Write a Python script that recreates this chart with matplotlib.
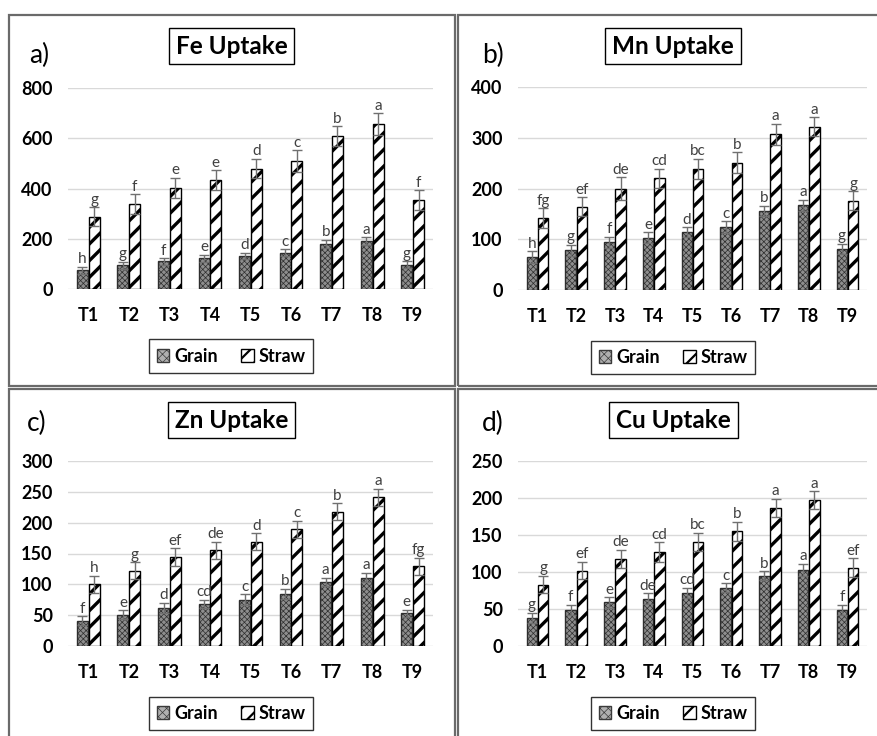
import matplotlib
matplotlib.use('Agg')
import matplotlib.pyplot as plt
from matplotlib.patches import Rectangle, Patch
import numpy as np

plt.rcParams['font.family'] = ['Lato', 'DejaVu Sans']
plt.rcParams['hatch.linewidth'] = 2.4

W, H = 877, 736

treatments = ['T1', 'T2', 'T3', 'T4', 'T5', 'T6', 'T7', 'T8', 'T9']

# Fe uptake
fe_grain = [74, 94, 110, 123, 132, 145, 180, 190, 97]
fe_grain_err = [15, 14, 13, 14, 13, 14, 16, 15, 13]
fe_straw = [287, 337, 403, 434, 479, 510, 608, 657, 354]
fe_straw_err = [38, 40, 40, 38, 39, 43, 40, 43, 39]
fe_grain_let = ['h', 'g', 'f', 'e', 'd', 'c', 'b', 'a', 'g']
fe_straw_let = ['g', 'f', 'e', 'e', 'd', 'c', 'b', 'a', 'f']

# Mn uptake
mn_grain = [65, 78, 94, 103, 114, 124, 156, 167, 81]
mn_grain_err = [11, 11, 11, 11, 10, 12, 10, 11, 10]
mn_straw = [142, 164, 200, 220, 239, 251, 307, 322, 176]
mn_straw_err = [19, 19, 22, 19, 20, 21, 21, 19, 19]
mn_grain_let = ['h', 'g', 'f', 'e', 'd', 'c', 'b', 'a', 'g']
mn_straw_let = ['fg', 'ef', 'de', 'cd', 'bc', 'b', 'a', 'a', 'g']

# Zn uptake
zn_grain = [41, 51, 62, 68, 75, 85, 104, 111, 53]
zn_grain_err = [7, 7, 8, 7, 9, 8, 7, 8, 6]
zn_straw = [100, 122, 144, 155, 169, 189, 218, 241, 129]
zn_straw_err = [14, 14, 15, 14, 14, 14, 14, 14, 14]
zn_grain_let = ['f', 'e', 'd', 'cd', 'c', 'b', 'a', 'a', 'e']
zn_straw_let = ['h', 'g', 'ef', 'de', 'd', 'c', 'b', 'a', 'fg']

# Cu uptake
cu_grain = [38, 49, 59, 64, 72, 79, 95, 103, 49]
cu_grain_err = [7, 7, 7, 7, 7, 6, 6, 8, 7]
cu_straw = [83, 102, 118, 127, 141, 155, 187, 197, 106]
cu_straw_err = [12, 12, 12, 13, 12, 13, 12, 12, 13]
cu_grain_let = ['g', 'f', 'e', 'de', 'cd', 'c', 'b', 'a', 'f']
cu_straw_let = ['g', 'ef', 'de', 'cd', 'bc', 'b', 'a', 'a', 'ef']

panels = [
    dict(tag='a)', title='Fe Uptake', grain=fe_grain, gerr=fe_grain_err, straw=fe_straw,
         serr=fe_straw_err, glet=fe_grain_let, slet=fe_straw_let, ymax=800, step=200,
         ax=(68, 433, 289, 88), border=(9, 15, 455, 386), tagpos=(39, 55),
         titlepos=(231.5, 46), legpos=(231, 356)),
    dict(tag='b)', title='Mn Uptake', grain=mn_grain, gerr=mn_grain_err, straw=mn_straw,
         serr=mn_straw_err, glet=mn_grain_let, slet=mn_straw_let, ymax=400, step=100,
         ax=(518, 867, 290, 87), border=(458, 15, 900, 386), tagpos=(493, 55),
         titlepos=(673, 46), legpos=(673, 357.5)),
    dict(tag='c)', title='Zn Uptake', grain=zn_grain, gerr=zn_grain_err, straw=zn_straw,
         serr=zn_straw_err, glet=zn_grain_let, slet=zn_straw_let, ymax=300, step=50,
         ax=(68, 433, 646, 461), border=(9, 389, 455, 760), tagpos=(37, 423),
         titlepos=(231.5, 420), legpos=(231, 713.5)),
    dict(tag='d)', title='Cu Uptake', grain=cu_grain, gerr=cu_grain_err, straw=cu_straw,
         serr=cu_straw_err, glet=cu_grain_let, slet=cu_straw_let, ymax=250, step=50,
         ax=(518, 867, 646, 461), border=(458, 389, 900, 760), tagpos=(493, 423),
         titlepos=(673.5, 420), legpos=(673, 713.5)),
]

fig = plt.figure(figsize=(W / 100, H / 100), dpi=100)

GRAIN_FACE = '#8e8e8e'
GRAIN_EDGE = '#2e2e2e'
ERR_COLOR = '#707070'
LET_COLOR = '#404040'
bw = 0.27
off = 0.145


def set_hlw(patch, lw):
    if hasattr(patch, 'set_hatch_linewidth'):
        patch.set_hatch_linewidth(lw)


for p in panels:
    x0, x1, yb, yt = p['ax']
    ax = fig.add_axes([x0 / W, 1 - yb / H, (x1 - x0) / W, (yb - yt) / H])
    x = np.arange(len(treatments))
    gb = ax.bar(x - off, p['grain'], bw, facecolor=GRAIN_FACE, edgecolor=GRAIN_EDGE,
                linewidth=1.0, hatch='xxxxxx', zorder=3)
    for r in gb:
        set_hlw(r, 0.5)
    sb = ax.bar(x + off, p['straw'], bw, facecolor='white', edgecolor='black',
                linewidth=1.0, hatch='//', zorder=3)
    for r in sb:
        set_hlw(r, 2.4)
    ax.errorbar(x - off, p['grain'], yerr=p['gerr'], fmt='none', ecolor=ERR_COLOR,
                elinewidth=1.0, capsize=3.4, capthick=1.0, zorder=4)
    ax.errorbar(x + off, p['straw'], yerr=p['serr'], fmt='none', ecolor=ERR_COLOR,
                elinewidth=1.0, capsize=3.4, capthick=1.0, zorder=4)
    for xi, v, e, l in zip(x - off, p['grain'], p['gerr'], p['glet']):
        ax.annotate(l, (xi, v + e), xytext=(0, 0.3), textcoords='offset points',
                    ha='center', va='bottom', fontsize=11, color=LET_COLOR, zorder=5)
    for xi, v, e, l in zip(x + off, p['straw'], p['serr'], p['slet']):
        ax.annotate(l, (xi, v + e), xytext=(0, 0.3), textcoords='offset points',
                    ha='center', va='bottom', fontsize=11, color=LET_COLOR, zorder=5)
    ax.set_xlim(-0.5, len(treatments) - 0.5)
    ax.set_ylim(0, p['ymax'])
    ax.set_yticks(np.arange(0, p['ymax'] + 1, p['step']))
    ax.set_xticks(x)
    ax.set_xticklabels(treatments)
    ax.yaxis.grid(True, color='#d9d9d9', linewidth=1.0, zorder=0)
    ax.set_axisbelow(True)
    for s in ax.spines.values():
        s.set_visible(False)
    ax.tick_params(axis='both', length=0, labelsize=13)
    ax.tick_params(axis='y', pad=11)
    ax.tick_params(axis='x', pad=13)
    for lab in ax.get_xticklabels() + ax.get_yticklabels():
        lab.set_fontweight('bold')
    ax.set_facecolor('none')

    # panel border
    bx0, by0, bx1, by1 = p['border']
    fig.add_artist(Rectangle((bx0 / W, 1 - by1 / H), (bx1 - bx0) / W, (by1 - by0) / H,
                             transform=fig.transFigure, fill=False,
                             edgecolor='#6a6a6a', linewidth=1.6, zorder=0))
    # panel tag
    fig.text(p['tagpos'][0] / W, 1 - p['tagpos'][1] / H, p['tag'], ha='center',
             va='center', fontsize=19)
    # title box
    fig.text(p['titlepos'][0] / W, 1 - p['titlepos'][1] / H, p['title'], ha='center',
             va='center', fontsize=17.5, fontweight='bold',
             bbox=dict(boxstyle='square,pad=0.28', facecolor='white', edgecolor='black',
                       linewidth=1.0))
    # legend
    hg = Patch(facecolor='#b0b0b0', edgecolor='#3a3a3a', hatch='xxxx', label='Grain')
    hs = Patch(facecolor='white', edgecolor='black', hatch='//', label='Straw')
    set_hlw(hg, 0.5)
    set_hlw(hs, 1.6)
    leg = ax.legend(handles=[hg, hs], loc='center',
                    bbox_to_anchor=(p['legpos'][0] / W, 1 - p['legpos'][1] / H),
                    bbox_transform=fig.transFigure, ncol=2, frameon=True, fancybox=False,
                    edgecolor='black', prop={'weight': 'bold', 'size': 13},
                    handlelength=0.7, handleheight=0.7, handletextpad=0.25,
                    columnspacing=1.3, borderpad=0.45, borderaxespad=0)
    leg.get_frame().set_linewidth(1.0)
    lh = getattr(leg, 'legend_handles', None) or getattr(leg, 'legendHandles', [])
    if len(lh) == 2:
        set_hlw(lh[0], 0.5)
        set_hlw(lh[1], 1.6)

fig.savefig('out.png', dpi=100, facecolor='white')
